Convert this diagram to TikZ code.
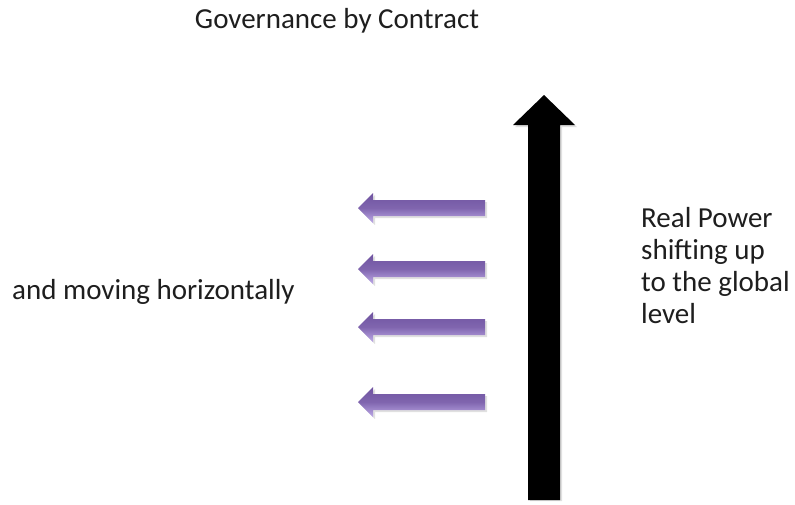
\documentclass[tikz,border=0pt]{standalone}
\usepackage{fontspec}
\setmainfont{Carlito}
\definecolor{purpledark}{RGB}{112,84,160}
\definecolor{purplelight}{RGB}{190,170,232}
\definecolor{textgray}{RGB}{30,30,30}
\tikzset{
    label text/.style={font=\fontsize{29}{32}\selectfont, text=textgray, inner sep=0pt},
    purple arrow/.style={top color=purpledark, bottom color=purplelight, middle color=purpledark!80!purplelight, draw=none},
    arrow shadow/.style={fill=black, opacity=0.12, draw=none}
}
\begin{document}
\begin{tikzpicture}[x=1pt,y=-1pt]
            \useasboundingbox[fill=white] (0,0) rectangle (795,504);

            % black arrow going up
            \fill[arrow shadow] (530,501) -- (530,127) -- (515,127) -- (546,97) -- (577,127) -- (562,127) -- (562,501) -- cycle;
            \fill[black] (528,500) -- (528,125) -- (513,125) -- (544,95) -- (575,125) -- (560,125) -- (560,500) -- cycle;

            % purple arrows going left
            \foreach \y in {208, 269, 327, 402}
                {
                    \fill[arrow shadow] (487,\y+10) -- (375,\y+10) -- (375,\y+17) -- (360,\y+2) -- (375,\y-13) -- (375,\y-6) -- (487,\y-6) -- cycle;
                    \shade[purple arrow] (485,\y+8) -- (373,\y+8) -- (373,\y+15) -- (358,\y) -- (373,\y-15) -- (373,\y-8) -- (485,\y-8) -- cycle;
                }

            \node (title) at (337,28) [label text, anchor=base] {Governance by Contract};
            \node (horiz) at (12,299) [label text, anchor=base west] {and moving horizontally};
            \node (power) at (641,323) [label text, anchor=base west, align=left] {Real Power\\shifting up\\to the global\\level};
        \end{tikzpicture}
\end{document}
